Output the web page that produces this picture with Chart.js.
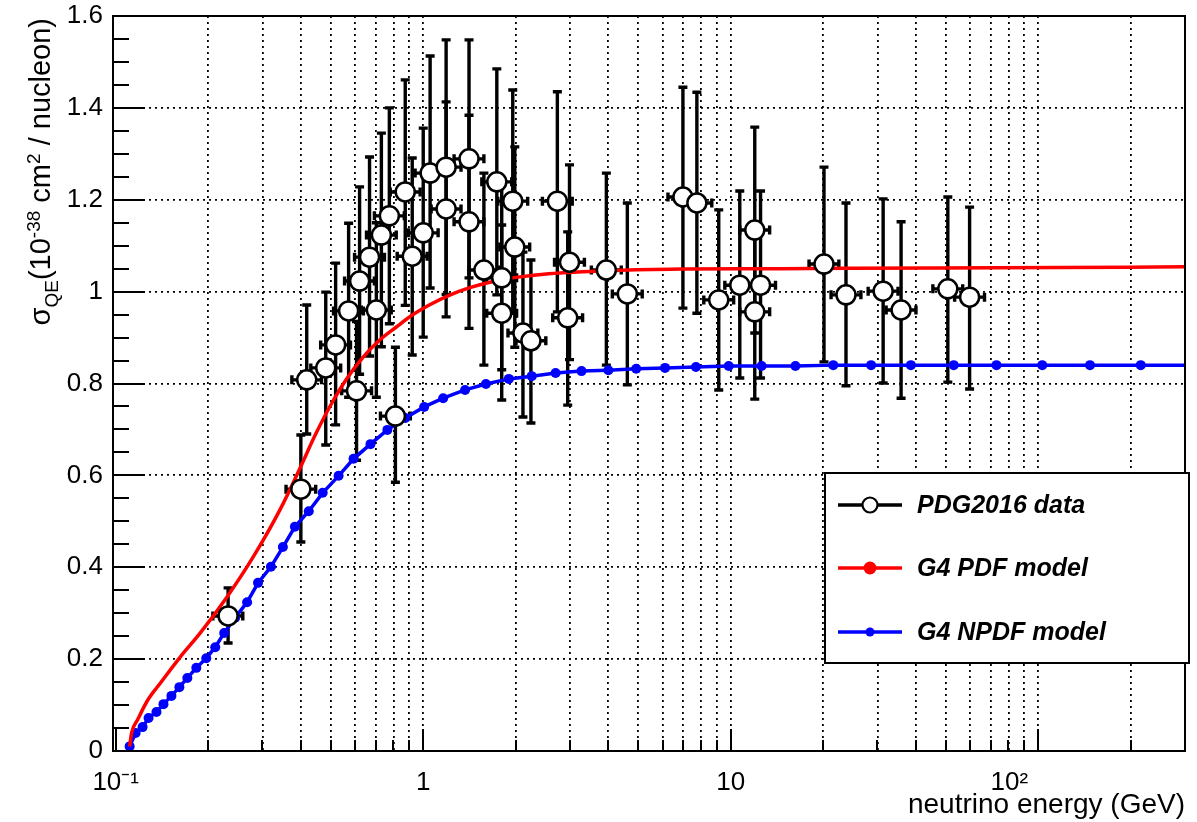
<!DOCTYPE html>
<html><head><meta charset="utf-8">
<script src="https://cdn.jsdelivr.net/npm/chart.js@4.4.1/dist/chart.umd.min.js"></script>
<style>html,body{margin:0;padding:0;background:#fff;}canvas{display:block;}</style>
</head><body>
<canvas id="c" width="1197" height="822"></canvas>
<script>
// ---------------- data ----------------
const dataE = [0.232,0.400,0.418,0.482,0.519,0.572,0.607,0.621,0.669,0.704,0.731,0.776,0.812,0.874,0.921,1.000,1.053,1.187,1.187,1.409,1.409,1.575,1.735,1.80,1.80,1.955,1.985,2.11,2.24,2.73,2.95,2.99,3.94,4.61,6.99,7.76,9.14,10.7,11.97,11.97,12.5,20.1,23.7,31.3,35.8,50.8,59.8];
const dataELow = [0.207,0.358,0.374,0.431,0.464,0.511,0.543,0.555,0.598,0.629,0.654,0.694,0.726,0.781,0.823,0.894,0.941,1.061,1.061,1.260,1.260,1.408,1.551,1.609,1.609,1.748,1.775,1.886,2.003,2.441,2.637,2.673,3.522,4.121,6.249,6.937,8.171,9.566,10.70,10.70,11.18,17.97,21.19,27.98,32.01,45.42,53.46];
const dataEHigh = [0.259,0.447,0.467,0.539,0.580,0.639,0.679,0.694,0.748,0.787,0.817,0.868,0.908,0.977,1.030,1.118,1.177,1.327,1.327,1.575,1.575,1.761,1.940,2.012,2.012,2.186,2.219,2.359,2.504,3.052,3.298,3.343,4.405,5.154,7.815,8.676,10.22,11.96,13.38,13.38,13.98,22.47,26.50,34.99,40.02,56.79,66.86];
const dataSigma = [0.294,0.570,0.808,0.834,0.884,0.958,0.784,1.023,1.075,0.960,1.123,1.165,0.729,1.217,1.077,1.128,1.258,1.271,1.180,1.289,1.152,1.047,1.239,1.030,0.953,1.197,1.097,0.910,0.893,1.197,0.943,1.064,1.047,0.995,1.206,1.193,0.982,1.014,1.134,0.956,1.014,1.060,0.993,1.001,0.960,1.006,0.988];
const dataSigmaLow = [0.235,0.455,0.69,0.666,0.710,0.77,0.633,0.82,0.86,0.77,0.88,0.93,0.585,0.97,0.862,0.901,1.008,0.994,0.945,1.03,0.92,0.840,0.993,0.83,0.764,0.955,0.879,0.727,0.714,0.956,0.753,0.852,0.840,0.797,0.964,0.953,0.786,0.812,0.91,0.766,0.812,0.847,0.795,0.801,0.768,0.803,0.788];
const dataSigmaHigh = [0.355,0.688,0.971,0.999,1.062,1.149,0.935,1.228,1.293,1.15,1.345,1.400,0.879,1.461,1.291,1.356,1.513,1.548,1.413,1.548,1.384,1.258,1.485,1.232,1.145,1.439,1.315,1.086,1.069,1.435,1.13,1.276,1.258,1.193,1.445,1.434,1.178,1.219,1.358,1.146,1.219,1.271,1.193,1.202,1.152,1.206,1.184];

const pdfE = [0.111,0.1127,0.1178,0.1269,0.1398,0.1623,0.1884,0.2304,0.2797,0.3420,0.3970,0.447,0.504,0.5632,0.6348,0.7205,0.8177,0.9213,1.046,1.214,1.409,1.635,2.0,2.558,4.21,6.89,14.52,23.9,73.1,320];
const pdfSigma = [0.010,0.040,0.068,0.110,0.148,0.205,0.257,0.336,0.422,0.525,0.615,0.690,0.757,0.810,0.856,0.894,0.923,0.949,0.971,0.992,1.008,1.020,1.031,1.039,1.046,1.049,1.050,1.051,1.052,1.054];

const npdfE = [0.111,0.1161,0.1223,0.1279,0.1357,0.1430,0.1518,0.1611,0.1710,0.1829,0.1970,0.2107,0.2253,0.2445,0.2675,0.2903,0.3197,0.3497,0.3825,0.4244,0.4711,0.5307,0.5935,0.6737,0.7646,0.8744,1.007,1.161,1.368,1.599,1.898,2.253,2.694,3.271,4.000,4.927,6.114,7.705,9.85,12.60,16.23,21.54,28.60,38.52,53.09,73.13,103.0,147.3,215.4,320];
const npdfSigma = [0.010,0.039,0.052,0.072,0.085,0.102,0.120,0.139,0.159,0.181,0.202,0.226,0.257,0.290,0.324,0.366,0.401,0.444,0.488,0.522,0.562,0.599,0.636,0.668,0.699,0.725,0.749,0.768,0.786,0.799,0.810,0.816,0.823,0.827,0.829,0.832,0.834,0.836,0.838,0.838,0.838,0.840,0.840,0.840,0.840,0.840,0.840,0.840,0.840,0.840];

const xMin = 0.098, xMax = 300;
const xGridValues = [0.1,0.2,0.3,0.4,0.5,0.6,0.7,0.8,0.9,1,2,3,4,5,6,7,8,9,10,20,30,40,50,60,70,80,90,100,200];
const xDecades = [0.1,1,10,100];
const xTickLabels = {'0.1':'10\u207B\u00B9','1':'1','10':'10','100':'10\u00B2        '};
const yMin = 0, yMax = 1.6, yMajorStep = 0.2, yMinorStep = 0.05;
const legendLabels = ['PDG2016 data','G4 PDF model','G4 NPDF model'];
const xTitle = 'neutrino energy (GeV)';
const yTitleParts = [['\u03C3','n'],['QE','sub'],['(10','n'],['-38','sup'],[' cm','n'],['2','sup'],[' / nucleon)','n']];

// ---------------- drawing ----------------
const FONT = '"Liberation Sans", Arial, Helvetica, sans-serif';
const pts = (xs, ys) => xs.map((x, i) => ({x: x, y: ys[i]}));

const errorBars = {
  id: 'errorBars',
  beforeDatasetsDraw(chart) {
    const ctx = chart.ctx, xs = chart.scales.x, ys = chart.scales.y;
    ctx.save();
    ctx.strokeStyle = '#000'; ctx.lineWidth = 3.4; ctx.lineCap = 'butt';
    const cap = 4.5;
    for (let i = 0; i < dataE.length; i++) {
      const px = xs.getPixelForValue(dataE[i]);
      const py = ys.getPixelForValue(dataSigma[i]);
      const yl = ys.getPixelForValue(dataSigmaLow[i]);
      const yh = ys.getPixelForValue(dataSigmaHigh[i]);
      const xl = xs.getPixelForValue(dataELow[i]);
      const xh = xs.getPixelForValue(dataEHigh[i]);
      ctx.beginPath();
      ctx.moveTo(px, yl); ctx.lineTo(px, yh);
      ctx.moveTo(px - cap, yl); ctx.lineTo(px + cap, yl);
      ctx.moveTo(px - cap, yh); ctx.lineTo(px + cap, yh);
      ctx.moveTo(xl, py); ctx.lineTo(xh, py);
      ctx.moveTo(xl, py - cap); ctx.lineTo(xl, py + cap);
      ctx.moveTo(xh, py - cap); ctx.lineTo(xh, py + cap);
      ctx.stroke();
    }
    ctx.restore();
  }
};

const framePlugin = {
  id: 'frame',
  afterDraw(chart) {
    const ctx = chart.ctx, a = chart.chartArea, xs = chart.scales.x, ys = chart.scales.y;
    ctx.save();
    ctx.strokeStyle = '#000';
    ctx.lineWidth = 2;
    const nMinor = Math.round((yMax - yMin) / yMinorStep);
    const perMajor = Math.round(yMajorStep / yMinorStep);
    ctx.beginPath();
    for (let i = 0; i <= nMinor; i++) {
      const v = yMin + i * yMinorStep;
      const py = Math.round(ys.getPixelForValue(v));
      const len = (i % perMajor === 0) ? 32 : 16;
      ctx.moveTo(a.left, py); ctx.lineTo(a.left + len, py);
    }
    xGridValues.forEach(v => {
      const px = Math.round(xs.getPixelForValue(v));
      const len = xDecades.includes(v) ? 22 : 11;
      ctx.moveTo(px, a.bottom); ctx.lineTo(px, a.bottom - len);
    });
    ctx.stroke();
    ctx.lineWidth = 2;
    ctx.strokeRect(a.left, a.top, a.right - a.left, a.bottom - a.top);

    // y title with sub/superscripts
    const big = 29, small = 19;
    let W = 0;
    yTitleParts.forEach(p => {
      ctx.font = (p[1] === 'n' ? big : small) + 'px ' + FONT;
      W += ctx.measureText(p[0]).width;
    });
    ctx.translate(50, a.top + 2);
    ctx.rotate(-Math.PI / 2);
    ctx.fillStyle = '#000'; ctx.textBaseline = 'alphabetic'; ctx.textAlign = 'left';
    let x = -W;
    yTitleParts.forEach(p => {
      const sz = p[1] === 'n' ? big : small;
      const dy = p[1] === 'sub' ? 8 : (p[1] === 'sup' ? -10 : 0);
      ctx.font = sz + 'px ' + FONT;
      ctx.fillText(p[0], x, dy);
      x += ctx.measureText(p[0]).width;
    });
    ctx.restore();

    // legend
    ctx.save();
    const bx = 825, by = 473, bw = 364, bh = 190;
    ctx.fillStyle = '#fff'; ctx.fillRect(bx, by, bw, bh);
    ctx.strokeStyle = '#000'; ctx.lineWidth = 2; ctx.strokeRect(bx, by, bw, bh);
    const rows = [505, 568, 632];
    const colors = ['#000', '#ff0000', '#0000ff'];
    rows.forEach((ry, i) => {
      ctx.strokeStyle = colors[i]; ctx.lineWidth = 3.5;
      ctx.beginPath(); ctx.moveTo(838, ry); ctx.lineTo(902, ry); ctx.stroke();
      ctx.beginPath();
      if (i === 0) {
        ctx.arc(870, ry, 7.5, 0, Math.PI * 2);
        ctx.fillStyle = '#fff'; ctx.fill(); ctx.lineWidth = 2.2; ctx.stroke();
      } else {
        ctx.arc(870, ry, i === 1 ? 6.5 : 4.5, 0, Math.PI * 2);
        ctx.fillStyle = colors[i]; ctx.fill();
      }
      ctx.fillStyle = '#000';
      ctx.font = 'italic bold 25px ' + FONT;
      ctx.textAlign = 'left'; ctx.textBaseline = 'middle';
      ctx.fillText(legendLabels[i], 917, ry + 1);
    });
    ctx.restore();
  }
};

new Chart(document.getElementById('c'), {
  type: 'line',
  data: {
    datasets: [
      { label: legendLabels[0], data: pts(dataE, dataSigma), showLine: false,
        pointRadius: 9.5, pointHoverRadius: 9.5, pointBackgroundColor: '#fff',
        pointBorderColor: '#000', pointBorderWidth: 2.5, order: 0 },
      { label: legendLabels[1], data: pts(pdfE, pdfSigma), borderColor: '#ff0000',
        borderWidth: 3.5, pointRadius: 0, tension: 0.4, cubicInterpolationMode: 'monotone', order: 1 },
      { label: legendLabels[2], data: pts(npdfE, npdfSigma), borderColor: '#0000ff',
        borderWidth: 3.5, pointRadius: 5, pointBackgroundColor: '#0000ff',
        pointBorderWidth: 0, tension: 0, order: 2 }
    ]
  },
  options: {
    responsive: false, animation: false, events: [],
    layout: { padding: { left: 0, right: 6, top: 16, bottom: 0 } },
    plugins: { legend: { display: false }, tooltip: { enabled: false } },
    scales: {
      x: {
        type: 'logarithmic', min: xMin, max: xMax,
        afterBuildTicks: s => { s.ticks = xGridValues.map(v => ({ value: v })); },
        afterFit: s => { s.height = 71; s.paddingLeft = 0; s.paddingRight = 0; s.paddingTop = 0; s.paddingBottom = 0; },
        ticks: { autoSkip: false, maxRotation: 0, minRotation: 0, padding: 16, color: '#000',
          font: { size: 26, family: FONT },
          callback: v => (xTickLabels[String(v)] !== undefined ? xTickLabels[String(v)] : '') },
        grid: { drawTicks: false, lineWidth: 1.8,
          color: c => (c.tick && c.tick.value <= 0.1 ? 'rgba(0,0,0,0)' : '#000') },
        border: { display: false, dash: [2, 4] },
        title: { display: true, text: xTitle, align: 'end', color: '#000',
          font: { size: 28, family: FONT }, padding: { top: 0, bottom: 0 } }
      },
      y: {
        min: yMin, max: yMax,
        afterFit: s => { s.width = 113; s.paddingLeft = 0; s.paddingRight = 0; s.paddingTop = 0; s.paddingBottom = 0; },
        ticks: { stepSize: yMajorStep, padding: 10, color: '#000', font: { size: 26, family: FONT },
          callback: v => String(Math.round(v * 10) / 10) },
        grid: { drawTicks: false, lineWidth: 1.8,
          color: c => (c.tick && (c.tick.value <= yMin || c.tick.value >= yMax) ? 'rgba(0,0,0,0)' : '#000') },
        border: { display: false, dash: [2, 4] }
      }
    }
  },
  plugins: [errorBars, framePlugin]
});
</script>
</body></html>
